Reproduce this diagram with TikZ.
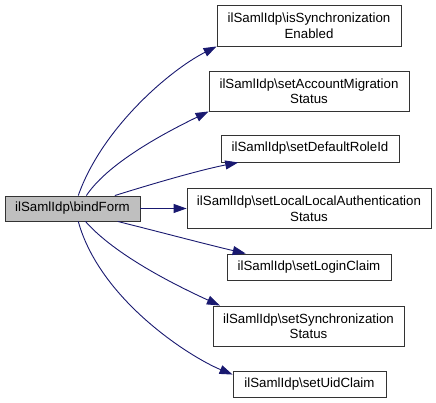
\documentclass[tikz,border=0pt]{standalone}
\usepackage{fontspec}
\setmainfont{Liberation Sans}
\usetikzlibrary{arrows.meta}
\definecolor{edgeblue}{HTML}{191970}
\definecolor{srcfill}{HTML}{BFBFBF}
\begin{document}
\begin{tikzpicture}[x=1pt,y=-1pt,
  box/.style={draw=black!80, line width=0.9pt, inner sep=0pt, align=center,
    font=\fontsize{13.3}{15.5}\selectfont},
  conn/.style={draw=edgeblue, line width=0.9pt, -{Triangle[length=13pt,width=9pt]}, fill=none}]
\useasboundingbox (0,0) rectangle (436,403);
\node[box, fill=srcfill, minimum width=135pt, minimum height=25pt] (src) at (72.5,208.5) {ilSamlIdp\textbackslash bindForm};
\node[box, minimum width=184pt, minimum height=41pt] (t1) at (309,25.5) {ilSamlIdp\textbackslash isSynchronization\\Enabled};
\node[box, minimum width=200pt, minimum height=40pt] (t2) at (309,91) {ilSamlIdp\textbackslash setAccountMigration\\Status};
\node[box, minimum width=178pt, minimum height=27pt] (t3) at (310,148.5) {ilSamlIdp\textbackslash setDefaultRoleId};
\node[box, minimum width=244pt, minimum height=40pt] (t4) at (309,208.5) {ilSamlIdp\textbackslash setLocalLocalAuthentication\\Status};
\node[box, minimum width=164pt, minimum height=26pt] (t5) at (309,267) {ilSamlIdp\textbackslash setLoginClaim};
\node[box, minimum width=191pt, minimum height=40pt] (t6) at (308.5,326) {ilSamlIdp\textbackslash setSynchronization\\Status};
\node[box, minimum width=153pt, minimum height=26pt] (t7) at (309.5,384) {ilSamlIdp\textbackslash setUidClaim};
\draw[conn] (src.66) .. controls (102,128) and (170,70) .. (t1.south west);
\draw[conn] (src.43) .. controls (110,160) and (175,128) .. (t2.south west);
\draw[conn] (src.17) .. controls (155,183) and (200,170) .. (t3.191);
\draw[conn] (src.east) -- (t4.west);
\draw[conn] (src.-16) .. controls (160,232) and (205,244) .. (t5.168);
\draw[conn] (src.-45) .. controls (115,255) and (175,285) .. (t6.167);
\draw[conn] (src.-66) .. controls (100,300) and (190,357) .. (t7.173);
\end{tikzpicture}
\end{document}
